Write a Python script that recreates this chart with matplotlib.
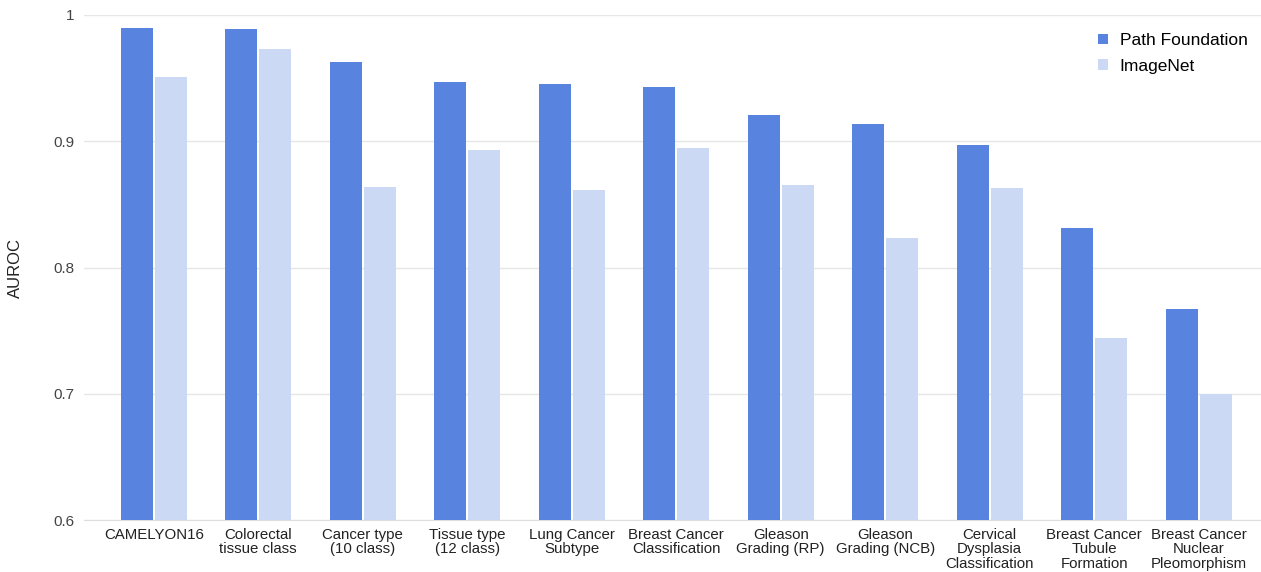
import numpy as np
import matplotlib
matplotlib.use("Agg")
import matplotlib.pyplot as plt

plt.rcParams['font.family'] = ['Liberation Sans', 'DejaVu Sans']

tasks = [
    "CAMELYON16",
    "Colorectal\ntissue class",
    "Cancer type\n(10 class)",
    "Tissue type\n(12 class)",
    "Lung Cancer\nSubtype",
    "Breast Cancer\nClassification",
    "Gleason\nGrading (RP)",
    "Gleason\nGrading (NCB)",
    "Cervical\nDysplasia\nClassification",
    "Breast Cancer\nTubule\nFormation",
    "Breast Cancer\nNuclear\nPleomorphism",
]
path_foundation = [0.990, 0.989, 0.963, 0.947, 0.945, 0.943, 0.921, 0.914, 0.897, 0.831, 0.767]
imagenet = [0.951, 0.973, 0.864, 0.893, 0.861, 0.895, 0.865, 0.823, 0.863, 0.744, 0.700]

pf_color = '#5884E0'
in_color = '#CBD9F4'

fig = plt.figure(figsize=(12.61, 5.72), dpi=100)
ax = fig.add_axes([84 / 1261, 52 / 572, (1261 - 84) / 1261, (520 - 15) / 572])

x = np.arange(len(tasks))
w = 0.306
ax.bar(x - 0.163, path_foundation, width=w, color=pf_color, label='Path Foundation', zorder=3)
ax.bar(x + 0.163, imagenet, width=w, color=in_color, label='ImageNet', zorder=3)

ax.set_ylim(0.6, 1.0)
ax.set_xlim(-0.667, 10.596)
ax.set_yticks([0.6, 0.7, 0.8, 0.9, 1.0])
ax.set_yticklabels(['0.6', '0.7', '0.8', '0.9', '1'])
ax.set_xticks(x)
ax.set_xticklabels(tasks, fontsize=10.8, color='#222222', linespacing=1.06)
ax.tick_params(axis='y', labelsize=11, colors='#444444', length=0, pad=7)
ax.tick_params(axis='x', length=0, pad=5.5)
ax.grid(axis='y', color='#E6E6E6', linewidth=1, zorder=0)
for s in ['top', 'right', 'left']:
    ax.spines[s].set_visible(False)
ax.spines['bottom'].set_color('#DDDDDD')
ax.set_ylabel('AUROC', fontsize=12, color='#222222', labelpad=22)

ax.legend(loc='upper right', bbox_to_anchor=(1.002, 0.995), frameon=False, fontsize=12.5,
          handlelength=0.55, handleheight=0.55, handletextpad=0.7, labelspacing=0.6)

fig.savefig('out.png', dpi=100)
